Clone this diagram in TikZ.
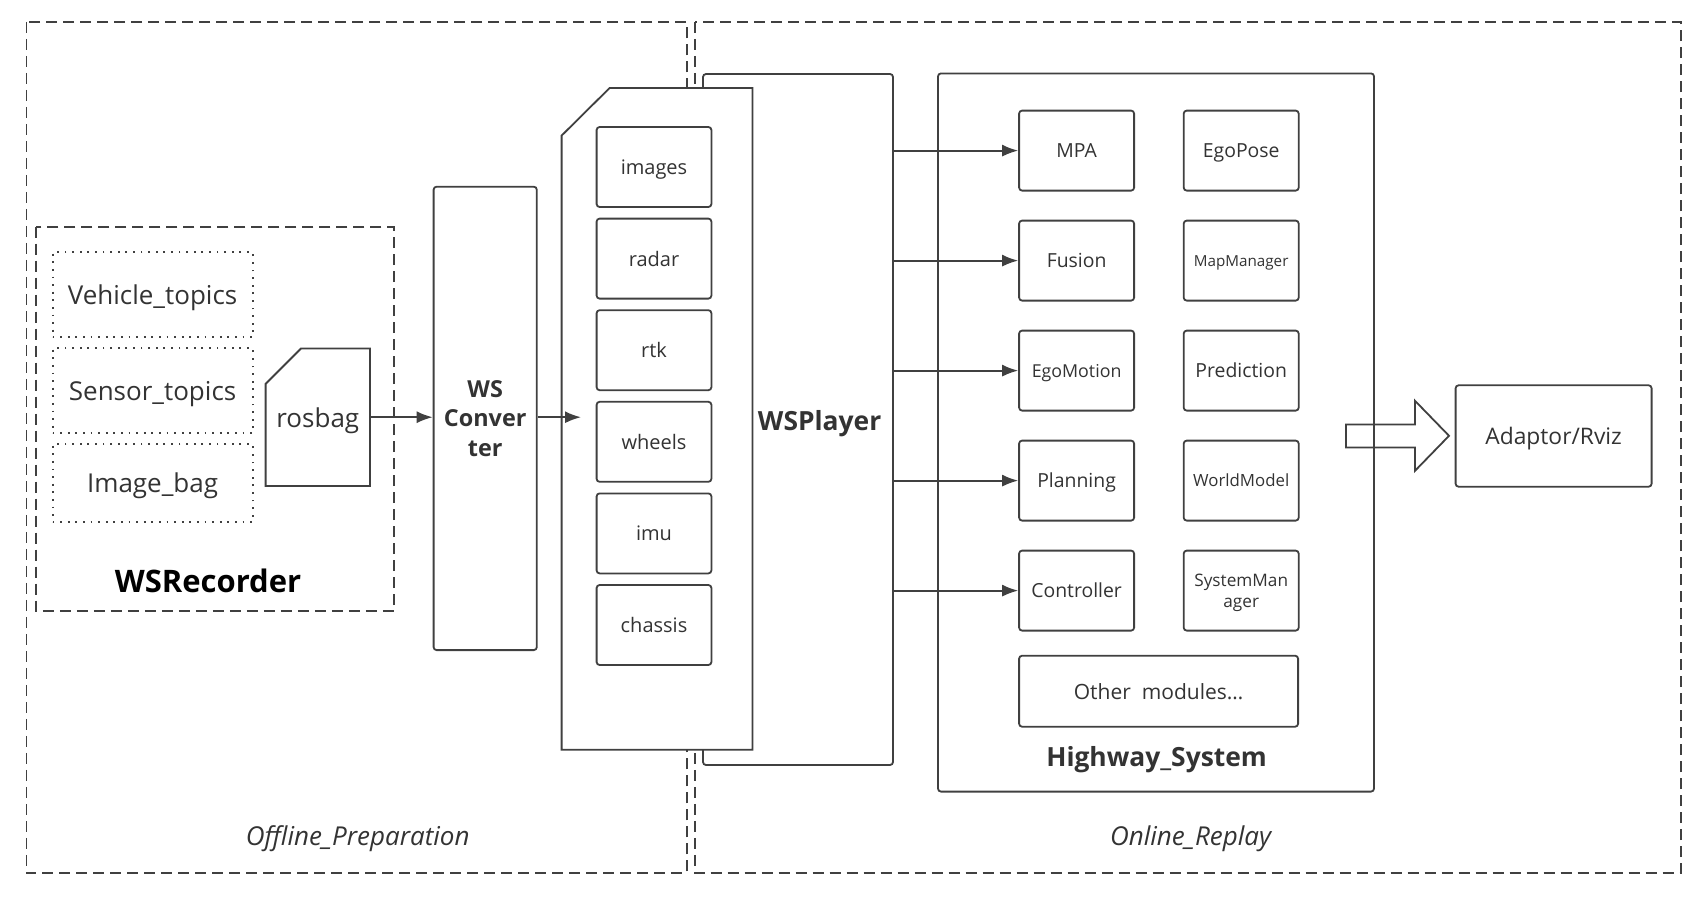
\documentclass[tikz,border=0pt]{standalone}
\usepackage{fontspec}
\setmainfont{Open Sans}
\usetikzlibrary{arrows.meta,shapes.misc,calc}
\definecolor{linegray}{HTML}{404040}
\definecolor{textgray}{HTML}{333333}

\begin{document}
\begin{tikzpicture}[x=1pt,y=-1pt,
    box/.style={draw=linegray,line width=0.9pt,rounded corners=1.5pt,fill=white,text=textgray,inner sep=0pt,align=center,text depth=0pt},
    topic/.style={draw=linegray,line width=0.9pt,dash pattern=on 0.9pt off 2.9pt,minimum width=100pt,inner sep=0pt,text=textgray,text depth=0pt,font=\fontsize{13}{15}\selectfont},
    zone/.style={draw=linegray,line width=0.9pt,dash pattern=on 5.5pt off 3pt},
    chamfer/.style={chamfered rectangle,chamfered rectangle corners=north west,draw=linegray,line width=0.9pt,fill=white,text=textgray,inner sep=0pt,text depth=0pt},
    cardline/.style={draw=linegray,line width=0.9pt,fill=white},
    item/.style={box,minimum width=57.4pt,minimum height=40pt,font=\fontsize{10}{12}\selectfont},
    module/.style={box,minimum width=57.5pt,minimum height=40pt,font=\fontsize{9.7}{11}\selectfont},
    flow/.style={draw=linegray,line width=0.9pt,-{Latex[length=8pt,width=6pt]}},
    title/.style={text=textgray,text depth=0pt,font=\bfseries\fontsize{13.2}{16}\selectfont},
    caption/.style={text=textgray,text depth=0pt,font=\itshape\fontsize{13}{15}\selectfont}]
  \useasboundingbox (0,0) rectangle (851,452.5);
  \draw[zone] (13.2,10.9) rectangle (343.3,436.5);
  \draw[zone] (347.4,10.9) rectangle (840.3,436.5);
  \draw[zone] (18,113.3) rectangle (197,305.4);
  \node[topic,minimum height=42.5pt] (vehicle) at (76.3,147.4) {Vehicle\_topics};
  \node[topic,minimum height=42.5pt] (sensor) at (76.3,195.4) {Sensor\_topics};
  \node[topic,minimum height=38.7pt] (imagebag) at (76.3,241.5) {Image\_bag};
  \node[text=black,font=\bfseries\fontsize{15.5}{18}\selectfont] (recorder) at (104,290.5) {WSRecorder};
  \node[chamfer,minimum width=52.2pt,minimum height=68.8pt,chamfered rectangle xsep=12.7pt,chamfered rectangle ysep=12.8pt,font=\fontsize{13}{15}\selectfont] (rosbag) at (158.9,208.6) {rosbag};
  \node[box,minimum width=51.6pt,minimum height=231.7pt,font=\bfseries\fontsize{11.7}{14.7}\selectfont] (conv) at (242.6,209.2) {WS\\Conver\\ter};
  \node[box,minimum width=95pt,minimum height=345.5pt] (player) at (399,209.75) {};
  \node[minimum width=95pt,minimum height=330.5pt,inner sep=0pt] (data) at (328.5,209.45) {};
  \draw[cardline] ($(data.north west)+(0,23.8)$) -- ($(data.north west)+(24,0)$) -- (data.north east) -- (data.south east) -- (data.south west) -- cycle;
  \foreach \name [count=\i] in {images,radar,rtk,wheels,imu,chassis}
    \node[item] (\name) at (327,{83.5+45.8*(\i-1)}) {\name};
  \node[title] (playerlab) at (409.8,210.3) {WSPlayer};
  \coordinate (datain) at (290.5,208.6);
  \draw[flow] (rosbag.east) -- (rosbag.east -| conv.west);
  \draw[flow] (conv.east |- rosbag.east) -- (datain);
  \node[box,minimum width=218pt,minimum height=359.1pt] (highway) at (578,216.25) {};
  \node[module] (mpa) at (538.3,75.3) {MPA};
  \node[module] (fusion) at (538.3,130.3) {Fusion};
  \node[module,font=\fontsize{8.9}{11}\selectfont] (egomotion) at (538.3,185.3) {EgoMotion};
  \node[module] (planning) at (538.3,240.3) {Planning};
  \node[module] (controller) at (538.3,295.3) {Controller};
  \node[module] (egopose) at (620.6,75.3) {EgoPose};
  \node[module,font=\fontsize{7.6}{9}\selectfont] (mapmanager) at (620.6,130.3) {MapManager};
  \node[module] (prediction) at (620.6,185.3) {Prediction};
  \node[module,font=\fontsize{8.4}{10}\selectfont] (worldmodel) at (620.6,240.3) {WorldModel};
  \node[module,font=\fontsize{8.6}{10.5}\selectfont] (sysmanager) at (620.6,295.3) {SystemMan\\ager};
  \node[box,minimum width=139.5pt,minimum height=35.5pt,font=\fontsize{10.5}{12}\selectfont] (others) at (579.3,345.6) {Other\ \ modules…};
  \node[title] (highwaylab) at (578.3,378.3) {Highway\_System};
  \foreach \m in {mpa,fusion,egomotion,planning,controller}
    \draw[flow] (player.east |- \m.west) -- (\m.west);
  \node[box,minimum width=98pt,minimum height=50.7pt,font=\fontsize{11.4}{14}\selectfont] (adaptor) at (776.8,218) {Adaptor/Rviz};
  \draw[draw=linegray,line width=0.9pt] (673,212.2) -- (707.5,212.2) -- (707.5,200.4) -- (724.5,217.9) -- (707.5,235.4) -- (707.5,223.7) -- (673,223.7) -- cycle;
  \node[caption] (offlinelab) at (178.9,418) {Offline\_Preparation};
  \node[caption] (onlinelab) at (595.3,418) {Online\_Replay};
\end{tikzpicture}
\end{document}
